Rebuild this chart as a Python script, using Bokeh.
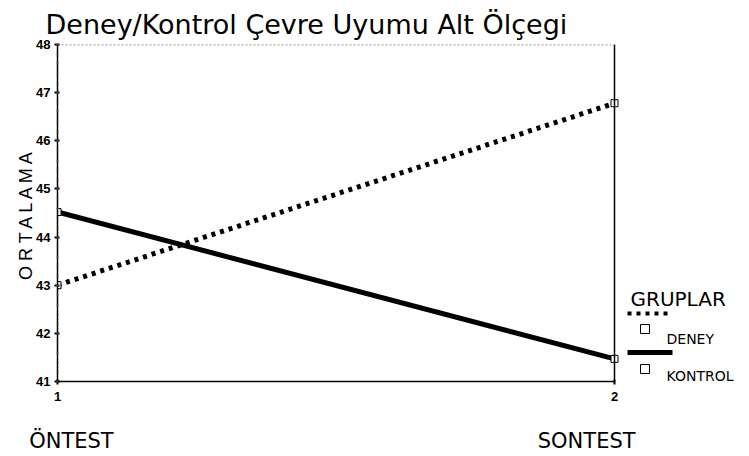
from bokeh.plotting import figure
from bokeh.models import Span, FixedTicker, Range1d, LinearAxis
from bokeh.core.properties import value
from bokeh.embed import file_html
from bokeh.resources import INLINE

# ---- data ----
times = [1, 2]
time_labels = ["ÖNTEST", "SONTEST"]
deney = [43.0, 46.78]
kontrol = [44.52, 41.47]
y_ticks = [41, 42, 43, 44, 45, 46, 47, 48]
title_text = "Deney/Kontrol Çevre Uyumu Alt Ölçegi"
y_label = "O R T A L A M A"
legend_title = "GRUPLAR"
legend_names = ["DENEY", "KONTROL"]

FONT = "DejaVu Sans"
AFONT = "Liberation Sans"

W, H = 749, 456
FL, FT, FB = 57, 44, 381          # frame left/top/bottom in pixels
PX_PER_X = 557.0                  # pixels per x unit (1 -> 2)
x_end = times[-1] + (W - 614) / PX_PER_X

p = figure(width=W, height=H, output_backend="svg", toolbar_location=None,
           x_range=Range1d(times[0], x_end), y_range=Range1d(y_ticks[0], y_ticks[-1]),
           min_border_left=FL, min_border_right=0, min_border_top=FT,
           min_border_bottom=H - FB)
p.outline_line_color = None
p.grid.visible = False

# title
p.title.text = title_text
p.title.text_font = FONT
p.title.text_font_size = "27px"
p.title.text_font_style = "normal"
p.title.text_color = "black"
p.title.align = "left"
p.title.offset = -12
p.title.standoff = 10

# axes
p.yaxis.ticker = FixedTicker(ticks=y_ticks, minor_ticks=[41 + i * 0.2 for i in range(36)])
p.xaxis.ticker = FixedTicker(ticks=times)
p.xaxis.bounds = (times[0], times[-1])
for ax in (p.xaxis, p.yaxis):
    ax.axis_line_color = "black"
    ax.axis_line_width = 1.5
    ax.major_tick_line_color = "black"
    ax.major_tick_line_width = 2
    ax.major_tick_out = 3
    ax.major_tick_in = 2
    ax.major_label_text_font = AFONT
    ax.major_label_text_font_size = "13px"
    ax.major_label_text_font_style = "bold"
    ax.major_label_text_color = "black"
p.yaxis.minor_tick_out = 1
p.yaxis.minor_tick_in = 1
p.yaxis.minor_tick_line_color = "#555555"
p.xaxis.minor_tick_line_color = None
p.yaxis.major_label_standoff = 4
p.xaxis.major_label_standoff = 7
p.yaxis.axis_label = y_label
p.yaxis.axis_label_text_font = AFONT
p.yaxis.axis_label_text_font_size = "18px"
p.yaxis.axis_label_text_font_style = "normal"
p.yaxis.axis_label_text_color = "black"
p.yaxis.axis_label_standoff = -3

# category axis below (labels nudged toward where the reference prints them)
cat_ticks = [t + nudge for t, nudge in zip(times, (0.025, -0.05))]
cat_axis = LinearAxis(ticker=FixedTicker(ticks=cat_ticks), bounds=(times[0], times[-1]),
                      major_label_overrides={t: lab for t, lab in zip(cat_ticks, time_labels)},
                      axis_line_color=None, major_tick_line_color=None,
                      minor_tick_line_color=None, major_label_standoff=19,
                      major_label_text_font=FONT, major_label_text_font_size="21px",
                      major_label_text_color="black")
p.add_layout(cat_axis, "below")

# frame lines
p.add_layout(Span(location=times[-1], dimension="height", line_color="black", line_width=1.5))
p.segment(x0=[times[0]], y0=[y_ticks[-1]], x1=[times[-1]], y1=[y_ticks[-1]],
          line_color="#777777", line_width=1.5, line_dash="2 2")

# series
p.line(times, deney, line_color="black", line_width=5, line_dash="4 5")
p.line(times, kontrol, line_color="black", line_width=5)
p.scatter(times, deney, marker="square", size=7, fill_color="white", line_color="black")
p.scatter(times, kontrol, marker="square", size=7, fill_color="white", line_color="black")

# legend (drawn in the frame area right of x=2)
def dx(px):
    return times[0] + (px - FL) / PX_PER_X

def dy(py):
    return y_ticks[-1] - (py - FT) / ((FB - FT) / (y_ticks[-1] - y_ticks[0]))

p.text(x=[dx(630)], y=[dy(298)], text=[legend_title], text_font=value(FONT),
       text_font_size="20px", text_color="black", text_baseline="alphabetic")
p.line([dx(627), dx(672)], [dy(313), dy(313)], line_color="black", line_width=4,
       line_dash="4 5")
p.scatter([dx(644.5)], [dy(328.5)], marker="square", size=9, fill_color="white",
          line_color="black")
p.text(x=[dx(666)], y=[dy(338)], text=[legend_names[0]], text_font=value(FONT),
       text_font_size="14px", text_color="black", text_baseline="alphabetic")
p.line([dx(627), dx(672)], [dy(352), dy(352)], line_color="black", line_width=5)
p.scatter([dx(644.5)], [dy(368.5)], marker="square", size=9, fill_color="white",
          line_color="black")
p.text(x=[dx(666)], y=[dy(375)], text=[legend_names[1]], text_font=value(FONT),
       text_font_size="14px", text_color="black", text_baseline="alphabetic")

open("out.html", "w").write(file_html(p, INLINE))
